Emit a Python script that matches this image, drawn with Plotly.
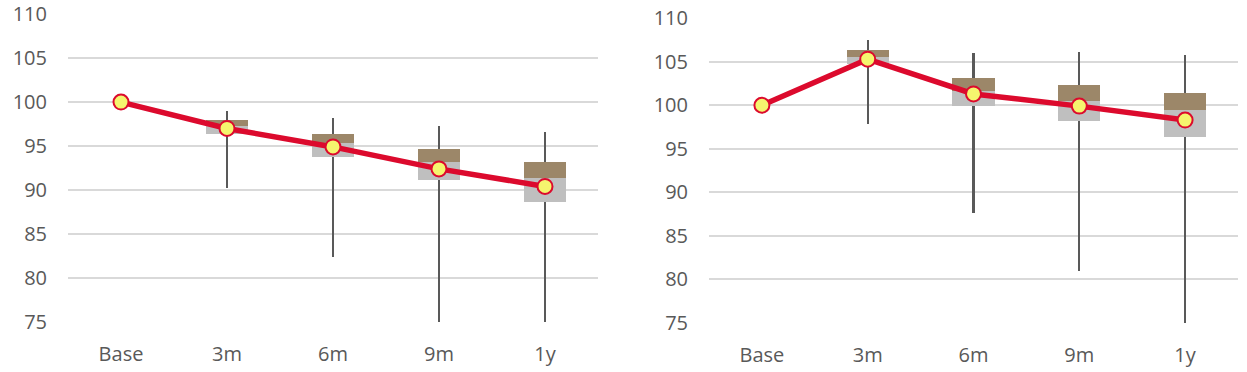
import plotly.graph_objects as go

categories = ["Base", "3m", "6m", "9m", "1y"]
box_cats = ["3m", "6m", "9m", "1y"]

# Left panel
left_line = [100.0, 97.0, 94.9, 92.4, 90.4]
left_min = [90.2, 82.4, 75.0, 75.0]
left_max = [99.0, 98.2, 97.3, 96.6]
left_q1 = [96.4, 93.8, 91.1, 88.6]
left_med = [97.3, 95.3, 93.2, 91.4]
left_q3 = [98.0, 96.4, 94.7, 93.2]

# Right panel
right_line = [100.0, 105.3, 101.3, 99.9, 98.3]
right_min = [97.8, 87.6, 80.9, 75.0]
right_max = [107.5, 106.0, 106.1, 105.8]
right_q1 = [104.8, 99.9, 98.2, 96.3]
right_med = [105.5, 101.65, 100.5, 99.4]
right_q3 = [106.3, 103.1, 102.3, 101.4]

y_ticks = [75, 80, 85, 90, 95, 100, 105, 110]

GREY = "#BFBFBF"
BROWN = "#9C8769"
WHISK = "#595959"
RED = "#DC0A2D"
YELLOW = "#F5F56E"

fig = go.Figure()

def add_panel(xa, ya, line, mn, mx, q1, med, q3):
    fig.add_trace(go.Bar(x=box_cats, y=[b - a for a, b in zip(mn, mx)], base=mn,
                         width=0.02, marker=dict(color=WHISK, line=dict(width=0)),
                         xaxis=xa, yaxis=ya, showlegend=False, hoverinfo="skip"))
    fig.add_trace(go.Bar(x=box_cats, y=[b - a for a, b in zip(q1, med)], base=q1,
                         width=0.4, marker=dict(color=GREY, line=dict(width=0)),
                         xaxis=xa, yaxis=ya, showlegend=False))
    fig.add_trace(go.Bar(x=box_cats, y=[b - a for a, b in zip(med, q3)], base=med,
                         width=0.4, marker=dict(color=BROWN, line=dict(width=0)),
                         xaxis=xa, yaxis=ya, showlegend=False))
    fig.add_trace(go.Scatter(x=categories, y=line, mode="lines+markers",
                             line=dict(color=RED, width=5.5),
                             marker=dict(size=15, color=YELLOW, line=dict(color=RED, width=2)),
                             xaxis=xa, yaxis=ya, showlegend=False))

add_panel("x", "y", left_line, left_min, left_max, left_q1, left_med, left_q3)
add_panel("x2", "y2", right_line, right_min, right_max, right_q1, right_med, right_q3)

font = dict(family="Open Sans, Noto Sans, sans-serif", size=20, color="#595959")
xcommon = dict(type="category", categoryorder="array", categoryarray=categories,
               range=[-0.5, 4.5],
               showgrid=False, showline=False, zeroline=False, tickfont=font,
               ticks="", ticklabelstandoff=18, fixedrange=True, automargin=False)
ycommon = dict(range=[74.97, 110.03], tickvals=y_ticks, showgrid=True, gridcolor="#D9D9D9",
               gridwidth=1.5, showline=False, zeroline=False, tickfont=font,
               ticks="", ticklabelstandoff=20, fixedrange=True, automargin=False,
               ticklabeloverflow="allow")

W, H = 1247, 372
fig.update_layout(
    width=W, height=H,
    margin=dict(l=0, r=0, t=0, b=0, autoexpand=False),
    paper_bgcolor="white", plot_bgcolor="white",
    barmode="overlay", bargap=0,
    hovermode=False,
    xaxis=dict(domain=[68 / W, 598 / W], anchor="y", **xcommon),
    yaxis=dict(domain=[(H - 322) / H, (H - 14) / H], anchor="x", **ycommon),
    xaxis2=dict(domain=[709 / W, 1238 / W], anchor="y2", **xcommon),
    yaxis2=dict(domain=[(H - 323) / H, (H - 18) / H], anchor="x2", **ycommon),
)

fig.write_html("out.html", config={"displayModeBar": False},
               post_script="document.body.style.margin='0';")
